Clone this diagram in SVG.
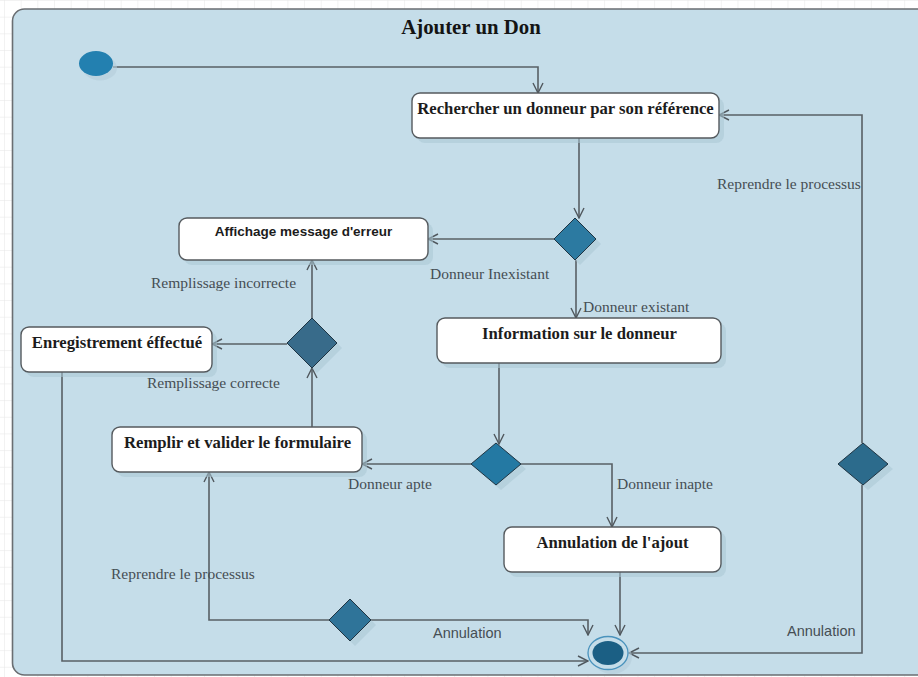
<svg xmlns="http://www.w3.org/2000/svg" width="918" height="677" viewBox="0 0 918 677">
  <defs>
    <pattern id="grid" x="4" y="0" width="16.67" height="16.67" patternUnits="userSpaceOnUse">
      <path d="M0,0 V16.67 M0,0 H16.67" fill="none" stroke="#e6e6e6" stroke-width="1"/>
    </pattern>
    <marker id="arrow" viewBox="0 0 12 12" refX="11" refY="6" markerWidth="12" markerHeight="12" markerUnits="userSpaceOnUse" orient="auto">
      <path d="M1,1 L11,6 L1,11" fill="none" stroke="#50585e" stroke-width="1.4"/>
    </marker>
    <style>
      .frame { fill: #c5dde9; stroke: #6a6e72; stroke-width: 1.6; }
      .box { fill: #ffffff; stroke: #555a5e; stroke-width: 1.4; }
      .shadow { fill: #aac6d4; opacity: 0.55; }
      .dia { stroke: #1f3442; stroke-width: 1; }
      .edge { fill: none; stroke: #586065; stroke-width: 1.6; marker-end: url(#arrow); }
      .title { font-family: "Liberation Serif", serif; font-weight: bold; font-size: 20.8px; fill: #141414; text-anchor: middle; }
      .act { font-family: "Liberation Serif", serif; font-weight: bold; font-size: 16.7px; fill: #1c1c1c; text-anchor: middle; }
      .act-sans { font-family: "Liberation Sans", Arial, sans-serif; font-weight: bold; font-size: 13.5px; fill: #1c1c1c; text-anchor: middle; }
      .lbl { font-family: "Liberation Serif", serif; font-size: 15.5px; fill: #464e54; }
      .lbl-sans { font-family: "Liberation Sans", Arial, sans-serif; font-size: 14.5px; fill: #464e54; }
    </style>
  </defs>

  <!-- canvas grid -->
  <rect x="0" y="0" width="918" height="677" fill="#ffffff"/>
  <rect x="0" y="0" width="918" height="677" fill="url(#grid)"/>

  <!-- activity frame -->
  <rect class="frame" x="12.5" y="9" width="920" height="666" rx="12"/>
  <text class="title" x="471" y="34">Ajouter un Don</text>

  <!-- connectors -->
  <g id="connectors">
    <path class="edge" d="M113,67 H538 V93"/>
    <path class="edge" d="M579,138 V218"/>
    <path class="edge" d="M554,239 H428"/>
    <path class="edge" d="M576,260 V318"/>
    <path class="edge" d="M499,363 V444"/>
    <path class="edge" d="M471,464 H362"/>
    <path class="edge" d="M521,464 H612 V527"/>
    <path class="edge" d="M620,572 V635"/>
    <path class="edge" d="M312,427 V368"/>
    <path class="edge" d="M312,318 V260"/>
    <path class="edge" d="M287,344 H212"/>
    <path class="edge" d="M62,372 V661 H588"/>
    <path class="edge" d="M329,620 H209 V472"/>
    <path class="edge" d="M371,620 H588 V635"/>
    <path class="edge" d="M862,443 V115 H719"/>
    <path class="edge" d="M862,485 V653 H629"/>
  </g>

  <!-- guard labels -->
  <g id="labels">
    <text class="lbl" x="717" y="189">Reprendre le processus</text>
    <text class="lbl" x="430" y="279">Donneur Inexistant</text>
    <text class="lbl" x="583" y="312">Donneur existant</text>
    <text class="lbl" x="151" y="288">Remplissage incorrecte</text>
    <text class="lbl" x="147" y="388">Remplissage correcte</text>
    <text class="lbl" x="348" y="489">Donneur apte</text>
    <text class="lbl" x="617" y="489">Donneur inapte</text>
    <text class="lbl" x="111" y="579">Reprendre le processus</text>
    <text class="lbl-sans" x="433" y="638">Annulation</text>
    <text class="lbl-sans" x="787" y="636" font-size="13.3">Annulation</text>
  </g>

  <!-- initial node -->
  <g id="start">
    <ellipse cx="100" cy="68" rx="17" ry="12.5" fill="#b4cdda" opacity="0.6"/>
    <ellipse cx="96" cy="63.5" rx="17" ry="12.5" fill="#2380b0"/>
  </g>

  <!-- activities -->
  <g id="rechercher">
    <rect class="shadow" x="417" y="98" width="307" height="45" rx="8"/>
    <rect class="box" x="412" y="93" width="307" height="45" rx="8"/>
    <text class="act" x="565.5" y="114">Rechercher un donneur par son référence</text>
  </g>
  <g id="affichage">
    <rect class="shadow" x="184" y="223" width="249" height="42" rx="8"/>
    <rect class="box" x="179" y="218" width="249" height="42" rx="8"/>
    <text class="act-sans" x="303.5" y="236">Affichage message d'erreur</text>
  </g>
  <g id="information">
    <rect class="shadow" x="442" y="323" width="284" height="45" rx="8"/>
    <rect class="box" x="437" y="318" width="284" height="45" rx="8"/>
    <text class="act" x="579.5" y="339">Information sur le donneur</text>
  </g>
  <g id="enregistrement">
    <rect class="shadow" x="26" y="332" width="191" height="45" rx="8"/>
    <rect class="box" x="21" y="327" width="191" height="45" rx="8"/>
    <text class="act" x="117" y="348">Enregistrement éffectué</text>
  </g>
  <g id="remplir">
    <rect class="shadow" x="117" y="432" width="250" height="45" rx="8"/>
    <rect class="box" x="112" y="427" width="250" height="45" rx="8"/>
    <text class="act" x="237.5" y="448">Remplir et valider le formulaire</text>
  </g>
  <g id="annulation">
    <rect class="shadow" x="509" y="532" width="217" height="45" rx="8"/>
    <rect class="box" x="504" y="527" width="217" height="45" rx="8"/>
    <text class="act" x="612.5" y="548">Annulation de l'ajout</text>
  </g>

  <!-- decision nodes -->
  <g id="decision-donneur">
    <path class="shadow" d="M580,223 L601,244 L580,265 L559,244 Z"/>
    <path class="dia" fill="#2c7aa1" d="M575,218 L596,239 L575,260 L554,239 Z"/>
  </g>
  <g id="decision-aptitude">
    <path class="shadow" d="M501,448 L526,469 L501,490 L476,469 Z"/>
    <path class="dia" fill="#2479a3" d="M496,443 L521,464 L496,485 L471,464 Z"/>
  </g>
  <g id="decision-reprise">
    <path class="shadow" d="M868,448 L893,469 L868,490 L843,469 Z"/>
    <path class="dia" fill="#2c6b8c" d="M863,443 L888,464 L863,485 L838,464 Z"/>
  </g>
  <g id="decision-remplissage">
    <path class="shadow" d="M317,323 L342,348 L317,373 L292,348 Z"/>
    <path class="dia" fill="#386b8a" d="M312,318 L337,343 L312,368 L287,343 Z"/>
  </g>
  <g id="decision-formulaire">
    <path class="shadow" d="M355,604 L376,625 L355,646 L334,625 Z"/>
    <path class="dia" fill="#2f7499" d="M350,599 L371,620 L350,641 L329,620 Z"/>
  </g>

  <!-- final node -->
  <g id="final">
    <ellipse cx="612" cy="657" rx="20" ry="17" fill="#b4cdda" opacity="0.6"/>
    <ellipse cx="608" cy="653" rx="20" ry="16.5" fill="#c5dde9" stroke="#4a93bd" stroke-width="1.3"/>
    <ellipse cx="608" cy="653" rx="15.5" ry="12" fill="#1b5f84"/>
  </g>
</svg>
